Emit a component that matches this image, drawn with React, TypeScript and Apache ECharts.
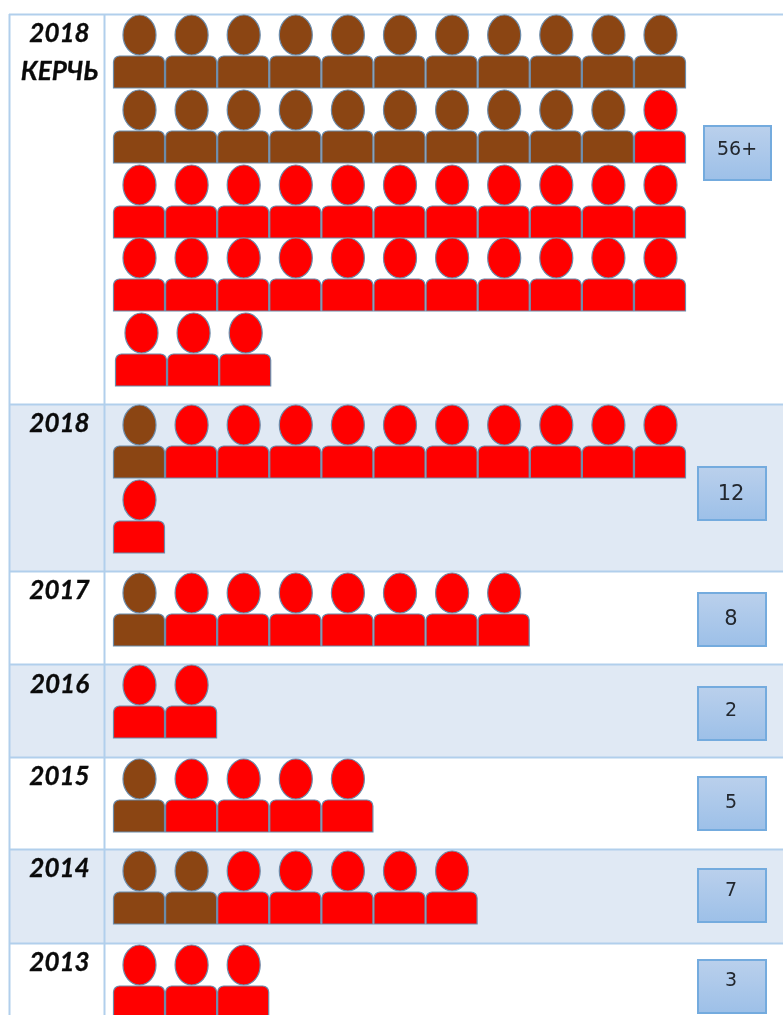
import React, { useEffect, useRef } from "react";
import * as echarts from "echarts";

// ---------- data ----------
const sectionTitles = [["2018", "КЕРЧЬ"], ["2018"], ["2017"], ["2016"], ["2015"], ["2014"], ["2013"]];
const totalLabels = ["56+", "12", "8", "2", "5", "7", "3"];
const brownCounts = [21, 1, 1, 0, 1, 2, 0];
const redCounts = [26, 11, 7, 2, 4, 5, 3];
const perLine = 11;

// ---------- layout (px) ----------
const W = 783;
const H = 1015;
const gridLeft = 113.5;
const pitch = 52.1;
const sectionTops = [15, 405, 572, 665, 758, 850, 944];
const lineTops = [
  [15, 90, 165, 238, 313],
  [405, 480],
  [573],
  [665],
  [759],
  [851],
  [945],
];
const lineShift: Record<string, number> = { "0-4": 2 };
const titleYs = [[32, 70], [422], [589], [683], [775], [867], [961]];
const boxRects = [
  [704, 126, 67, 54],
  [698, 467, 68, 53],
  [698, 593, 68, 53],
  [698, 687, 68, 53],
  [698, 777, 68, 53],
  [698, 869, 68, 53],
  [698, 960, 68, 53],
];
const boxTextYs = [148, 493, 618, 709, 801, 889, 979];
const boxTextXs = [737, 731, 731, 731, 731, 731, 731];
const boxFontSizes = [19, 21, 21, 19, 19, 19, 19];

const LINE = "#B1CFEC";
const BAND = "#E0E9F4";
const BROWN = "#8B4513";
const RED = "#FF0000";
const EDGE = "#6B8BAA";

function buildPeople() {
  const out: number[][] = [];
  sectionTitles.forEach((_, s) => {
    const total = brownCounts[s] + redCounts[s];
    for (let i = 0; i < total; i++) {
      const line = Math.floor(i / perLine);
      const col = i % perLine;
      const shift = lineShift[`${s}-${line}`] || 0;
      out.push([col + shift / pitch, lineTops[s][line], i < brownCounts[s] ? 1 : 0]);
    }
  });
  return out;
}

function chrome() {
  const els: any[] = [];
  const bottoms = [...sectionTops.slice(1), H];
  sectionTops.forEach((top, s) => {
    if (s % 2 === 1) {
      els.push({
        type: "rect",
        shape: { x: 10, y: top, width: W - 10, height: bottoms[s] - top },
        style: { fill: BAND },
        z: 0,
      });
    }
  });
  sectionTops.forEach((top) => {
    els.push({
      type: "line",
      shape: { x1: 9, y1: top - 0.5, x2: W, y2: top - 0.5 },
      style: { stroke: LINE, lineWidth: 2 },
      z: 1,
    });
  });
  [9.5, 104.5].forEach((x) =>
    els.push({
      type: "line",
      shape: { x1: x, y1: 14, x2: x, y2: H },
      style: { stroke: LINE, lineWidth: 2 },
      z: 1,
    })
  );
  sectionTitles.forEach((lines, s) => {
    lines.forEach((t, i) =>
      els.push({
        type: "text",
        x: 59.5,
        y: titleYs[s][i],
        style: {
          text: t,
          fill: "#0A0A0A",
          font: "italic bold 26px Lato",
          align: "center",
          verticalAlign: "middle",
          stroke: "#0A0A0A",
          lineWidth: 0.3,
        },
        z: 5,
      })
    );
  });
  totalLabels.forEach((t, s) => {
    const [x, y, w, h] = boxRects[s];
    els.push({
      type: "rect",
      shape: { x, y, width: w, height: h },
      style: {
        fill: new echarts.graphic.LinearGradient(0, 0, 0, 1, [
          { offset: 0, color: "#BAD0EC" },
          { offset: 1, color: "#9DC0E8" },
        ]),
        stroke: "#74ABDE",
        lineWidth: 2,
      },
      z: 4,
    });
    els.push({
      type: "text",
      x: boxTextXs[s],
      y: boxTextYs[s],
      style: {
        text: t,
        fill: "#22272E",
        font: `${boxFontSizes[s]}px 'DejaVu Sans'`,
        align: "center",
        verticalAlign: "middle",
      },
      z: 5,
    });
  });
  return els;
}

export default function App() {
  const ref = useRef<HTMLDivElement>(null);
  useEffect(() => {
    document.body.style.margin = "0";
    const chart = echarts.init(ref.current!, null, { renderer: "svg" });
    chart.setOption({
      animation: false,
      backgroundColor: "#FFFFFF",
      grid: { left: gridLeft, top: 0, width: pitch * perLine, height: H, containLabel: false },
      xAxis: { type: "value", min: 0, max: perLine, show: false },
      yAxis: { type: "value", min: 0, max: H, inverse: true, show: false },
      graphic: { elements: chrome() },
      series: [
        {
          type: "custom",
          name: "people",
          coordinateSystem: "cartesian2d",
          clip: false,
          z: 3,
          data: buildPeople(),
          renderItem: (_: any, api: any) => {
            const [left, top] = api.coord([api.value(0), api.value(1)]);
            const fill = api.value(2) === 1 ? BROWN : RED;
            const style = { fill, stroke: EDGE, lineWidth: 1.2 };
            return {
              type: "group",
              children: [
                {
                  type: "ellipse",
                  shape: { cx: left + 26, cy: top + 20, rx: 16.5, ry: 20 },
                  style,
                },
                {
                  type: "rect",
                  shape: { x: left, y: top + 41, width: 51, height: 32, r: [6, 6, 0, 0] },
                  style,
                },
              ],
            };
          },
        },
      ],
    });
    return () => chart.dispose();
  }, []);
  return (
    <div
      ref={ref}
      style={{ position: "fixed", left: 0, top: 0, width: W, height: H, filter: "blur(0.5px)" }}
    />
  );
}
